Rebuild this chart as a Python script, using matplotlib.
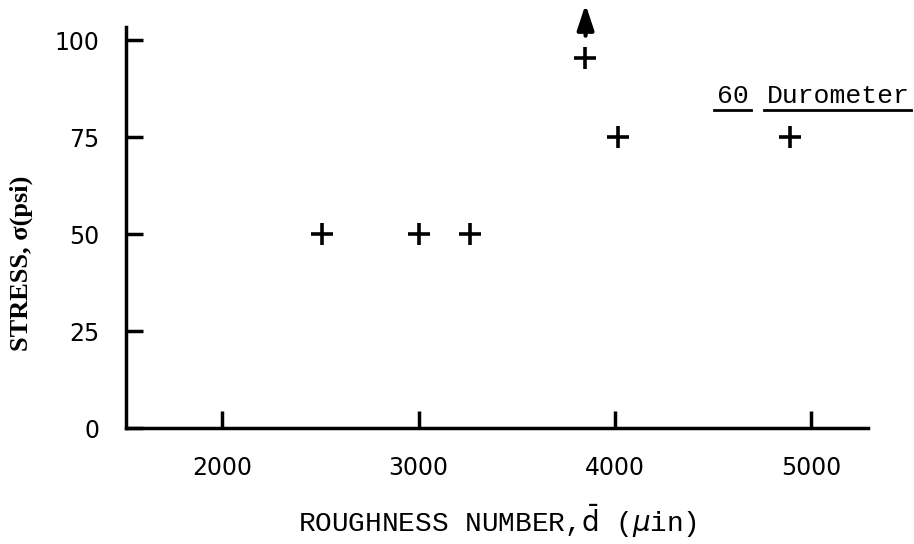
import matplotlib.pyplot as plt

# data
roughness = [2510, 3000, 3260, 3845, 4015, 4890]
stress = [50, 50, 50, 95.5, 75, 75]
offscale_x = 3850  # point above the scale (arrow)
xticks = [2000, 3000, 4000, 5000]
yticks = [0, 25, 50, 75, 100]

fig = plt.figure(figsize=(9.14, 5.44), dpi=100)
ax = fig.add_axes([0.138, 0.213, 0.812, 0.737])

ax.plot(roughness, stress, linestyle='none', marker='+', color='black',
        markersize=16, markeredgewidth=2.6)

# arrow for the off-scale value
ax.annotate('', xy=(offscale_x, 110), xytext=(offscale_x, 100.5),
            arrowprops=dict(arrowstyle='-|>,head_length=1.5,head_width=0.5',
                            color='black', lw=3),
            annotation_clip=False)

ax.set_xlim(1510, 5290)
ax.set_ylim(0, 103.4)
ax.set_xticks(xticks)
ax.set_yticks(yticks)

for s in ['top', 'right']:
    ax.spines[s].set_visible(False)
for s in ['left', 'bottom']:
    ax.spines[s].set_linewidth(2.5)

ax.tick_params(direction='in', length=12, width=2.5, labelsize=17)
ax.tick_params(axis='x', pad=20)
ax.tick_params(axis='y', pad=19)

ax.set_xlabel(r'ROUGHNESS NUMBER,$\bar{\mathrm{d}}$ ($\mu$in)',
              family='Liberation Mono', fontsize=20, labelpad=16)
ax.set_ylabel('STRESS, σ(psi)', family='Liberation Serif',
              fontweight='bold', fontsize=19)
ax.yaxis.set_label_coords(-0.126, 0.41)

ax.text(4600, 85.6, '60', family='Liberation Mono', fontsize=19,
        ha='center', va='center')
ax.text(5135, 85.6, 'Durometer', family='Liberation Mono', fontsize=19,
        ha='center', va='center')
ax.plot([4505, 4694], [82, 82], color='black', lw=2, clip_on=False)
ax.plot([4760, 5510], [82, 82], color='black', lw=2, clip_on=False)

fig.savefig('out.png', dpi=100)
